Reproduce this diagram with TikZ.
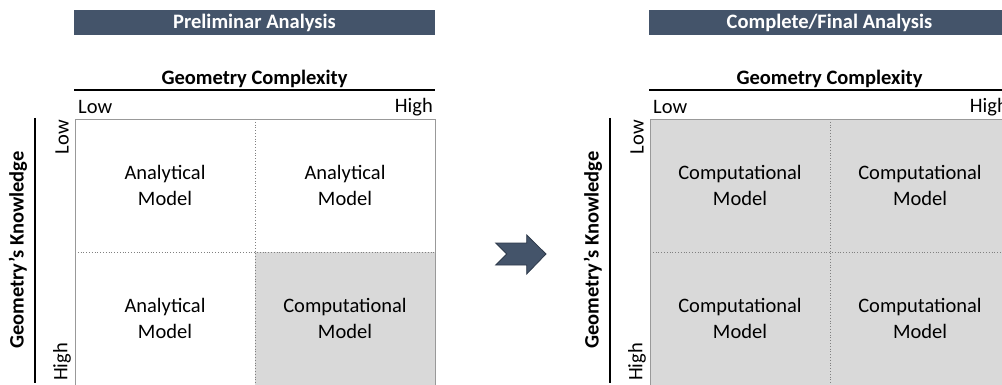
\documentclass[tikz,border=0pt]{standalone}
\usepackage{fontspec}
\setmainfont{Carlito}
\usepackage{tikz}
\usetikzlibrary{positioning}
\definecolor{slate}{HTML}{44546A}
\definecolor{slatedark}{HTML}{2E3A4B}
\definecolor{cellgray}{HTML}{D9D9D9}
\newcommand{\matfont}{\fontsize{20.5}{26}\selectfont}
\tikzstyle{titlebar} = [fill=slate, text=white, font=\matfont\bfseries, minimum width=361pt, minimum height=25pt, inner sep=0pt]
\tikzstyle{cell} = [minimum width=180pt, minimum height=133pt, inner sep=0pt, outer sep=0pt, align=center]
\tikzstyle{gcell} = [cell, fill=cellgray]
\tikzstyle{frame} = [draw=gray!80, line width=0.8pt]
\tikzstyle{divider} = [draw=gray, dotted, line width=0.8pt]
\tikzstyle{rule} = [draw, line width=1.5pt]
\tikzstyle{axislbl} = [inner sep=0pt]
\tikzstyle{axishead} = [axislbl, font=\matfont\bfseries]

\begin{document}
\begin{tikzpicture}[x=1pt, y=-1pt, font=\matfont]
				\clip (0,0) rectangle (1002,385);

				% left: preliminar analysis
				\node [titlebar] (pretitle) at (254.5,22.5) {Preliminar Analysis};
				\node [axishead] (precplx) at (254.5,79) {Geometry Complexity};
				\path [rule] (74,90) -- (435,90);
				\node [axislbl, anchor=west] (prelow) at (78,107) {Low};
				\node [axislbl, anchor=east] (prehigh) at (433,107) {High};

				\node [cell] (pre11) at (165,185.5) {Analytical\\Model};
				\node [cell] (pre12) at (345,185.5) {Analytical\\Model};
				\node [cell] (pre21) at (165,318.5) {Analytical\\Model};
				\node [gcell] (pre22) at (345,318.5) {Computational\\Model};

				\path [divider] (pre11.north east) -- (pre21.south east);
				\path [divider] (pre11.south west) -- (pre12.south east);
				\path [frame] (pre11.north west) rectangle (pre22.south east);

				\path [rule] (35,118) -- (35,383);
				\node [axishead, rotate=90] (preknow) at (18,250) {Geometry's Knowledge};
				\node [axislbl, rotate=90] (prektop) at (62,137) {Low};
				\node [axislbl, rotate=90] (prekbot) at (62,362) {High};

				% arrow between the two matrices
				\draw [fill=slate, draw=slatedark, line width=0.8pt, line join=miter]
					(495.7,243) -- (506.7,254) -- (495.7,265) -- (526.7,265) -- (526.7,274)
					-- (546,254) -- (526.7,235) -- (526.7,243) -- cycle;

				% right: complete/final analysis
				\begin{scope}[xshift=575pt]
				\node [titlebar] (fintitle) at (254.5,22.5) {Complete/Final Analysis};
				\node [axishead] (fincplx) at (254.5,79) {Geometry Complexity};
				\path [rule] (74,90) -- (435,90);
				\node [axislbl, anchor=west] (finlow) at (78,107) {Low};
				\node [axislbl, anchor=east] (finhigh) at (433,107) {High};

				\node [gcell] (fin11) at (165,185.5) {Computational\\Model};
				\node [gcell] (fin12) at (345,185.5) {Computational\\Model};
				\node [gcell] (fin21) at (165,318.5) {Computational\\Model};
				\node [gcell] (fin22) at (345,318.5) {Computational\\Model};

				\path [divider] (fin11.north east) -- (fin21.south east);
				\path [divider] (fin11.south west) -- (fin12.south east);
				\path [frame] (fin11.north west) rectangle (fin22.south east);

				\path [rule] (35,118) -- (35,383);
				\node [axishead, rotate=90] (finknow) at (18,250) {Geometry's Knowledge};
				\node [axislbl, rotate=90] (finktop) at (62,137) {Low};
				\node [axislbl, rotate=90] (finkbot) at (62,362) {High};
				\end{scope}
			\end{tikzpicture}
\end{document}
